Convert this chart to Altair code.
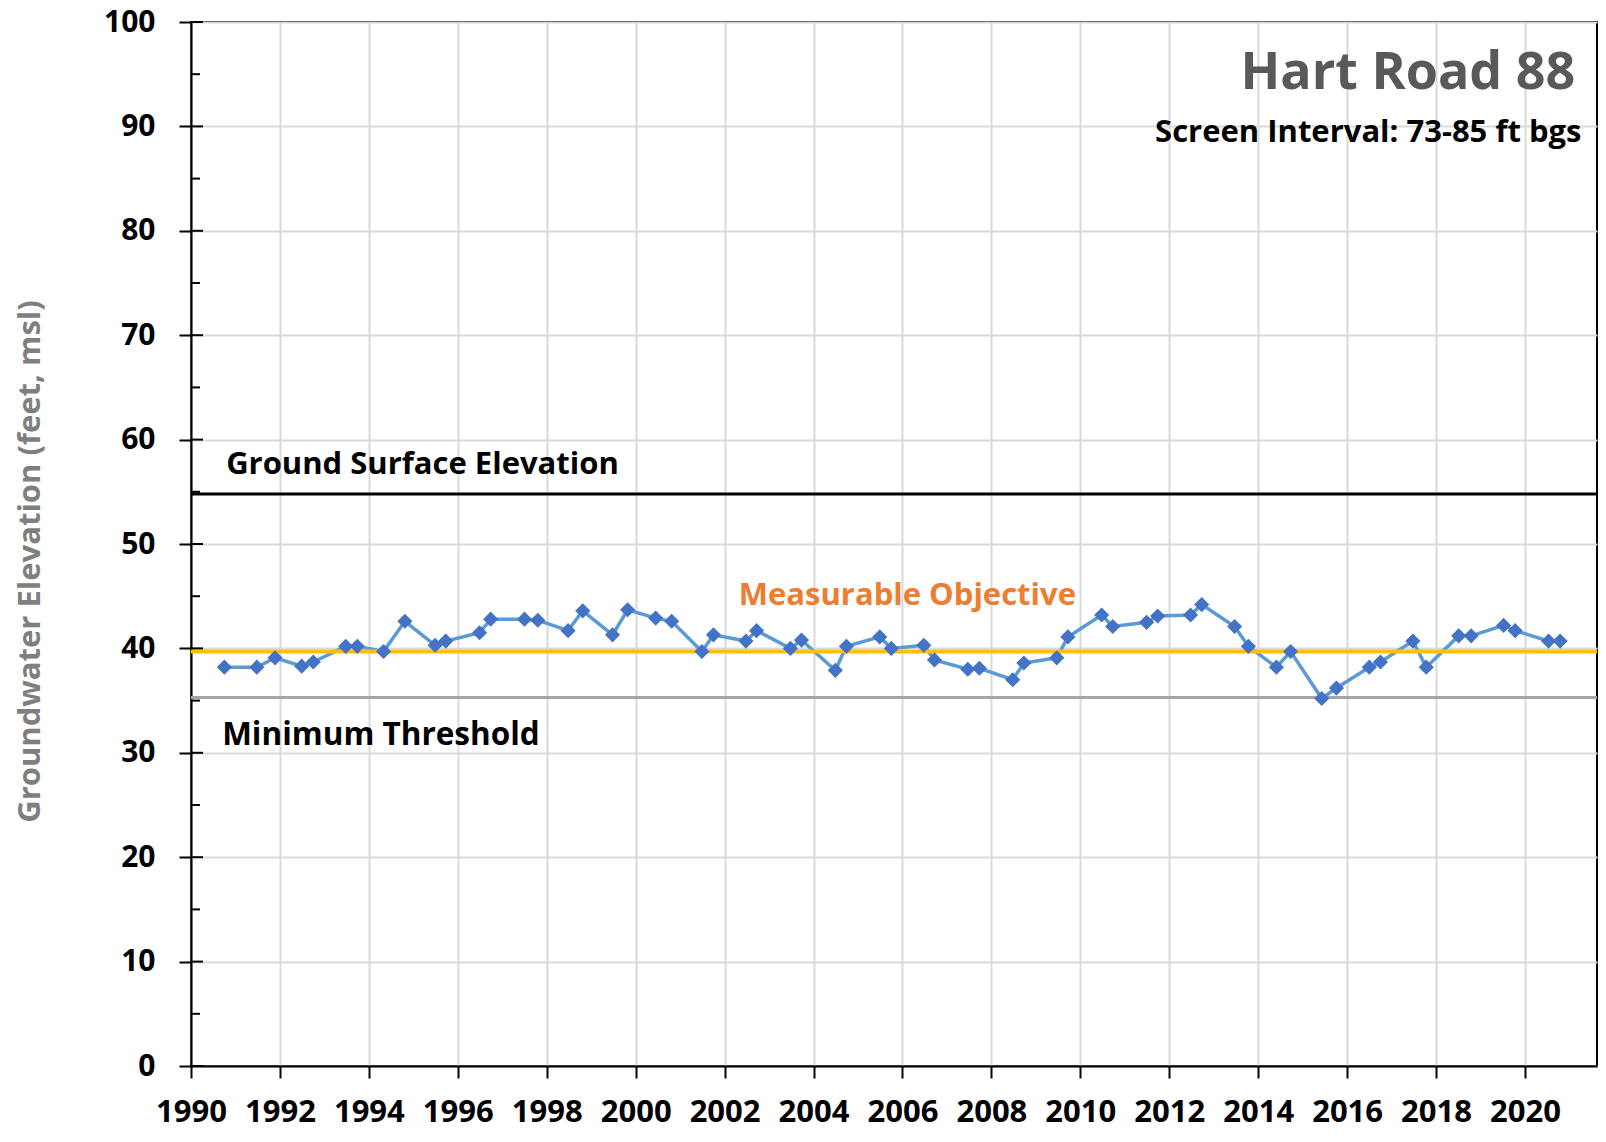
import altair as alt
import pandas as pd

# ---- data ----
years = [1990.75, 1991.48, 1991.89, 1992.49, 1992.75, 1993.48, 1993.74, 1994.33, 1994.81, 1995.49,
         1995.73, 1996.49, 1996.74, 1997.50, 1997.80, 1998.48, 1998.81, 1999.48, 1999.82, 2000.45,
         2000.81, 2001.49, 2001.75, 2002.48, 2002.72, 2003.48, 2003.73, 2004.49, 2004.74, 2005.49,
         2005.75, 2006.48, 2006.72, 2007.47, 2007.73, 2008.48, 2008.73, 2009.47, 2009.72, 2010.48,
         2010.73, 2011.49, 2011.74, 2012.48, 2012.73, 2013.47, 2013.78, 2014.41, 2014.73, 2015.43,
         2015.76, 2016.50, 2016.75, 2017.48, 2017.78, 2018.51, 2018.79, 2019.52, 2019.78, 2020.53,
         2020.79]
elevations = [38.2, 38.2, 39.1, 38.3, 38.7, 40.2, 40.2, 39.7, 42.6, 40.3,
              40.7, 41.5, 42.8, 42.8, 42.7, 41.7, 43.6, 41.3, 43.7, 42.9,
              42.6, 39.7, 41.3, 40.7, 41.7, 40.0, 40.8, 37.9, 40.2, 41.1,
              40.0, 40.3, 38.9, 38.0, 38.1, 37.0, 38.6, 39.1, 41.1, 43.2,
              42.1, 42.5, 43.1, 43.2, 44.2, 42.1, 40.2, 38.2, 39.7, 35.2,
              36.2, 38.2, 38.7, 40.7, 38.2, 41.2, 41.2, 42.2, 41.7, 40.7,
              40.7]

ground_surface = 54.8
measurable_objective = 39.7
minimum_threshold = 35.3

x_ticks = [1990, 1992, 1994, 1996, 1998, 2000, 2002, 2004, 2006, 2008,
           2010, 2012, 2014, 2016, 2018, 2020]
y_ticks = [0, 10, 20, 30, 40, 50, 60, 70, 80, 90, 100]
y_minor = [5, 15, 25, 35, 45, 55, 65, 75, 85, 95]

title_text = "Hart Road 88"
subtitle_text = "Screen Interval: 73-85 ft bgs"
y_title = "Groundwater Elevation (feet, msl)"

FONT = "Open Sans"

df = pd.DataFrame({"year": years, "elev": elevations})
major_df = pd.DataFrame({"v": y_ticks})
minor_df = pd.DataFrame({"v": y_minor})

xscale = alt.Scale(domain=[1990, 2021.62], nice=False, zero=False)
yscale = alt.Scale(domain=[0, 100], nice=False)

xaxis = alt.Axis(values=x_ticks, format="d", title=None, labelFontSize=31, labelFont=FONT,
                 labelFontWeight="bold", labelColor="black", tickSize=12, tickWidth=2,
                 tickColor="black", domainColor="black", domainWidth=2, labelPadding=19,
                 grid=True, gridColor="#D9D9D9", gridWidth=2, labelFlush=False)
yaxis = alt.Axis(values=y_ticks, title=y_title, labelFontSize=30, labelFont=FONT,
                 labelFontWeight="bold", labelColor="black", tickSize=12, tickWidth=2,
                 tickColor="black", domainColor="black", domainWidth=2, labelPadding=24,
                 grid=True, gridColor="#D9D9D9", gridWidth=2,
                 titleFont=FONT, titleFontSize=31, titleFontWeight="bold", titleColor="#7F7F7F",
                 titleX=-161, titleY=539, titleAngle=270, titleAlign="center",
                 titleBaseline="middle")

base = alt.Chart(df)

line = base.mark_line(color="#5B9BD5", strokeWidth=3.5).encode(
    x=alt.X("year:Q", scale=xscale, axis=xaxis),
    y=alt.Y("elev:Q", scale=yscale, axis=yaxis),
)
points = base.mark_point(shape="diamond", filled=True, size=230, color="#4472C4", opacity=1).encode(
    x=alt.X("year:Q", scale=xscale),
    y=alt.Y("elev:Q", scale=yscale),
)

gse = alt.Chart().mark_rule(color="black", strokeWidth=3).encode(y=alt.datum(ground_surface))
mo = alt.Chart().mark_rule(color="#FFC000", strokeWidth=4).encode(y=alt.datum(measurable_objective))
mt = alt.Chart().mark_rule(color="#A5A5A5", strokeWidth=3).encode(y=alt.datum(minimum_threshold))

major_in = alt.Chart(major_df).mark_rule(color="black", strokeWidth=2).encode(
    y=alt.Y("v:Q", scale=yscale), x=alt.value(0), x2=alt.value(12))
minor_in = alt.Chart(minor_df).mark_rule(color="black", strokeWidth=2).encode(
    y=alt.Y("v:Q", scale=yscale), x=alt.value(0), x2=alt.value(9))


def label(text, x, y, align, size, color, weight="bold"):
    return alt.Chart().mark_text(align=align, baseline="alphabetic", font=FONT, fontSize=size,
                                 fontWeight=weight, color=color).encode(
        x=alt.datum(x), y=alt.datum(y), text=alt.value(text))


t_title = label(title_text, 2021.13, 93.6, "right", 52, "#595959")
t_sub = label(subtitle_text, 2021.27, 88.5, "right", 31, "black")
t_gse = label("Ground Surface Elevation", 1990.79, 56.7, "left", 31, "black")
t_mt = label("Minimum Threshold", 1990.70, 30.7, "left", 31.5, "black")
t_mo = label("Measurable Objective", 2002.32, 44.2, "left", 31, "#ED7D31")

chart = alt.layer(
    line, gse, mo, mt, points, major_in, minor_in, t_title, t_sub, t_gse, t_mt, t_mo
).properties(
    width=1406, height=1044,
    autosize=alt.AutoSizeParams(type="none"),
    padding={"left": 183, "top": 14, "right": 1, "bottom": 64},
).configure_view(stroke="black", strokeWidth=2)

chart.save("out.html", embed_options={"renderer": "svg", "actions": False})
